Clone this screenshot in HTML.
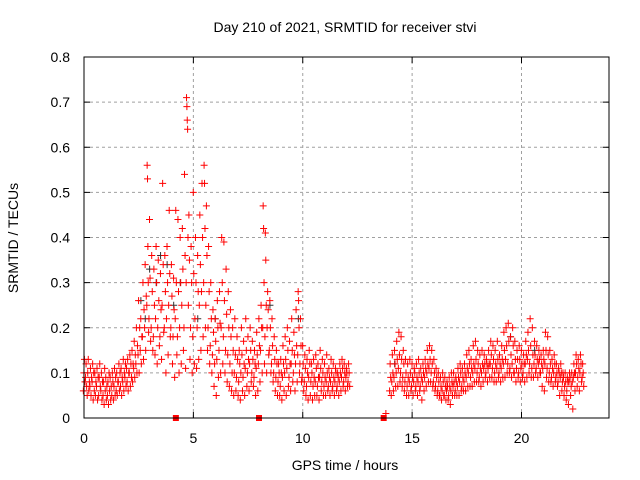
<!DOCTYPE html>
<html><head><meta charset="utf-8"><style>
html,body{margin:0;padding:0;background:#fff;}
svg{display:block;font-family:"Liberation Sans",sans-serif;}
</style></head><body>
<svg id="chart" width="640" height="480" viewBox="0 0 640 480">
<rect width="640" height="480" fill="#fff"/>
<text x="345" y="32" font-size="14" text-anchor="middle" fill="#000">Day 210 of 2021, SRMTID for receiver stvi</text>
<text x="345" y="470" font-size="14" text-anchor="middle" fill="#000">GPS time / hours</text>
<text x="0" y="0" font-size="14" text-anchor="middle" fill="#000" transform="translate(18,238) rotate(-90)">SRMTID / TECUs</text>
<g id="grid"></g>
<g id="ticks"></g>
<g id="black"></g>
<g id="red"></g>
<rect x="84" y="57" width="525" height="361" fill="none" stroke="#000" stroke-width="1"/>
</svg>
<script>
const xTicks=[0,5,10,15,20];
const yTicks=[0,0.1,0.2,0.3,0.4,0.5,0.6,0.7,0.8];
const yTickLabels=["0","0.1","0.2","0.3","0.4","0.5","0.6","0.7","0.8"];
const redTimes=[0.0,0.1,0.2,0.3,0.4,0.5,0.6,0.7,0.8,0.9,1.0,1.1,1.2,1.3,1.4,1.5,1.6,1.7,1.8,1.9,2.0,2.1,2.2,2.3,2.4,2.5,2.6,2.7,2.8,2.9,3.0,3.1,3.2,3.3,3.4,3.5,3.6,3.7,3.8,3.9,4.0,4.1,4.2,4.3,4.4,4.5,4.6,4.7,4.8,4.9,5.0,5.1,5.2,5.3,5.4,5.5,5.6,5.7,5.8,5.9,6.0,6.1,6.2,6.3,6.4,6.5,6.6,6.7,6.8,6.9,7.0,7.1,7.2,7.3,7.4,7.5,7.6,7.7,7.8,7.9,8.0,8.1,8.2,8.3,8.4,8.5,8.6,8.7,8.8,8.9,9.0,9.1,9.2,9.3,9.4,9.5,9.6,9.7,9.8,9.9,10.0,10.1,10.2,10.3,10.4,10.5,10.6,10.7,10.8,10.9,11.0,11.1,11.2,11.3,11.4,11.5,11.6,11.7,11.8,11.9,12.0,12.1,13.8,14.0,14.1,14.2,14.3,14.4,14.5,14.6,14.7,14.8,14.9,15.0,15.1,15.2,15.3,15.4,15.5,15.6,15.7,15.8,15.9,16.0,16.1,16.2,16.3,16.4,16.5,16.6,16.7,16.8,16.9,17.0,17.1,17.2,17.3,17.4,17.5,17.6,17.7,17.8,17.9,18.0,18.1,18.2,18.3,18.4,18.5,18.6,18.7,18.8,18.9,19.0,19.1,19.2,19.3,19.4,19.5,19.6,19.7,19.8,19.9,20.0,20.1,20.2,20.3,20.4,20.5,20.6,20.7,20.8,20.9,21.0,21.1,21.2,21.3,21.4,21.5,21.6,21.7,21.8,21.9,22.0,22.1,22.2,22.3,22.4,22.5,22.6,22.7,22.8];
const redValues=[
[.06,.1,.13,.08],[.09,.12,.07,.05],[.1,.13,.06,.08],[.07,.11,.05,.09],[.08,.12,.04,.1],[.06,.1,.05,.08],[.07,.11,.04,.09],[.05,.09,.12,.07],[.06,.1,.04,.08],[.05,.08,.03,.11],
[.06,.09,.04,.07],[.05,.08,.03,.1],[.06,.09,.04,.07],[.05,.1,.08,.04],[.07,.11,.05,.09],[.06,.1,.05,.08],[.08,.12,.06,.1],[.07,.11,.05,.09],[.08,.13,.06,.1],[.09,.12,.07,.11],
[.08,.13,.06,.1],[.1,.14,.07,.12],[.09,.15,.08,.12],[.11,.17,.09,.14],[.12,.2,.1,.16],[.14,.26,.1,.2],[.15,.22,.12,.18],[.18,.3,.13,.24],[.2,.34,.15,.27],[.25,.56,.53,.38,.3,.19],
[.22,.44,.31,.17],[.2,.36,.28,.15],[.18,.33,.25,.14],[.22,.38,.3,.12],[.2,.35,.26,.16],[.18,.32,.24,.13],[.25,.52,.34,.19],[.2,.36,.28,.1],[.22,.38,.3,.14],[.25,.46,.32,.18],
[.2,.34,.27,.12],[.18,.31,.24,.09],[.22,.46,.3,.14],[.18,.44,.28,.1],[.2,.4,.3,.12],[.25,.42,.33,.15],[.2,.54,.36,.11],[.3,.71,.69,.66,.64,.4],[.25,.45,.35,.13],[.2,.38,.3,.1],
[.18,.5,.32,.12],[.22,.4,.3,.11],[.2,.36,.28,.13],[.25,.45,.34,.15],[.28,.52,.4,.18],[.3,.56,.52,.42,.2],[.25,.47,.36,.15],[.2,.38,.28,.12],[.16,.3,.22,.1],[.14,.24,.19,.07],
[.12,.22,.17,.05],[.13,.26,.2,.09],[.15,.28,.21,.1],[.2,.4,.3,.12],[.18,.39,.26,.1],[.15,.33,.23,.08],[.14,.28,.2,.07],[.12,.24,.18,.06],[.1,.2,.15,.05],[.1,.22,.14,.06],
[.09,.18,.13,.05],[.08,.15,.12,.04],[.1,.2,.14,.06],[.09,.17,.12,.05],[.11,.22,.15,.07],[.1,.18,.13,.06],[.12,.2,.15,.08],[.1,.17,.13,.07],[.09,.15,.12,.05],[.11,.19,.14,.06],
[.12,.22,.16,.08],[.15,.25,.2,.1],[.2,.47,.42,.3,.12],[.18,.41,.35,.25,.1],[.2,.28,.24,.14],[.15,.26,.2,.1],[.12,.22,.16,.08],[.1,.18,.13,.06],[.09,.15,.12,.05],[.08,.12,.1,.05],
[.07,.13,.1,.04],[.09,.16,.12,.06],[.1,.18,.13,.05],[.11,.2,.15,.07],[.09,.17,.12,.06],[.12,.22,.15,.08],[.1,.19,.14,.06],[.12,.24,.16,.08],[.14,.28,.26,.2,.1],[.12,.22,.16,.08],
[.09,.16,.12,.06],[.08,.14,.11,.05],[.07,.13,.1,.04],[.09,.15,.12,.05],[.08,.12,.1,.04],[.07,.13,.09,.05],[.08,.14,.11,.05],[.07,.12,.09,.04],[.09,.15,.11,.06],[.08,.13,.1,.05],
[.07,.12,.09,.05],[.08,.14,.1,.06],[.07,.11,.09,.05],[.08,.13,.1,.06],[.07,.12,.09,.05],[.08,.11,.1,.06],[.07,.1,.09,.05],[.08,.12,.1,.06],[.09,.13,.11,.07],[.08,.12,.1,.06],
[.09,.11,.1,.07],[.08,.12,.1,.07],[.01],
[.06,.12,.09,.05],[.08,.14,.1,.06],[.09,.15,.12,.07],[.1,.17,.13,.07],[.11,.19,.14,.08],[.1,.18,.13,.07],[.09,.15,.12,.06],[.08,.13,.1,.05],[.07,.12,.09,.05],[.08,.13,.1,.06],
[.07,.12,.09,.05],[.08,.11,.1,.06],[.07,.12,.09,.05],[.08,.13,.1,.06],[.07,.11,.09,.04],[.08,.12,.1,.06],[.09,.13,.11,.07],[.1,.15,.12,.08],[.11,.16,.13,.08],[.1,.15,.12,.07],
[.08,.13,.1,.06],[.07,.11,.09,.05],[.06,.1,.08,.05],[.05,.09,.07,.04],[.06,.1,.08,.05],[.05,.09,.07,.04],[.06,.08,.07,.04],[.05,.09,.07,.03],[.06,.1,.08,.05],[.07,.1,.08,.05],
[.06,.09,.08,.05],[.07,.11,.09,.05],[.08,.12,.1,.06],[.07,.11,.09,.06],[.08,.12,.1,.06],[.09,.14,.11,.07],[.1,.15,.12,.07],[.09,.13,.11,.07],[.1,.16,.12,.08],[.11,.17,.13,.08],
[.1,.15,.12,.08],[.09,.14,.11,.07],[.1,.15,.12,.08],[.11,.14,.12,.09],[.1,.13,.12,.08],[.11,.15,.12,.09],[.12,.17,.14,.09],[.11,.16,.13,.08],[.1,.15,.12,.08],[.11,.17,.13,.09],
[.1,.14,.12,.08],[.11,.16,.13,.09],[.12,.19,.15,.09],[.13,.2,.16,.1],[.12,.21,.17,.1],[.11,.18,.14,.09],[.12,.2,.16,.1],[.1,.17,.13,.08],[.11,.15,.13,.09],[.1,.16,.13,.08],
[.11,.15,.12,.09],[.1,.14,.12,.08],[.12,.17,.14,.09],[.13,.19,.15,.1],[.12,.22,.16,.09],[.11,.2,.14,.09],[.12,.17,.14,.1],[.11,.16,.13,.09],[.12,.15,.13,.1],[.1,.14,.12,.07],
[.11,.15,.13,.06],[.12,.19,.15,.09],[.11,.18,.14,.08],[.1,.15,.12,.08],[.09,.13,.11,.07],[.1,.14,.12,.08],[.09,.12,.1,.07],[.08,.11,.1,.05],[.09,.12,.1,.06],[.08,.1,.09,.05],
[.07,.1,.08,.04],[.06,.09,.08,.03],[.08,.1,.09,.05],[.07,.1,.08,.02],[.09,.12,.1,.06],[.1,.14,.12,.07],[.09,.13,.11,.06],[.1,.14,.12,.08],[.09,.12,.1,.07]
];
const blackTimes=[2.6,2.8,3.0,3.3,3.5,3.8,4.1,4.4,5.2,6.0,8.5,9.8,14.2,19.5,20.6];
const blackValues=[.26,.22,.33,.3,.36,.34,.25,.3,.22,.22,.25,.22,.12,.18,.15];
const zeroTimes=[4.2,8.0,13.7];

const X0=84,X1=609,Y0=418,Y1=57;
const xs=h=>X0+(h/24)*(X1-X0);
const ys=v=>Y0-(v/0.8)*(Y0-Y1);
const NS="http://www.w3.org/2000/svg";
function mk(tag,attrs,parent){const e=document.createElementNS(NS,tag);for(const k in attrs)e.setAttribute(k,attrs[k]);parent.appendChild(e);return e;}
const grid=document.getElementById('grid'),ticks=document.getElementById('ticks');
xTicks.forEach(t=>{
  const x=xs(t);
  if(t>0){const g=mk('line',{x1:x,y1:Y0,x2:x,y2:Y1,stroke:'#a0a0a0','stroke-dasharray':'3,3'},grid);
  
  }
  mk('line',{x1:x,y1:Y0,x2:x,y2:Y0-6,stroke:'#000'},ticks);
  mk('line',{x1:x,y1:Y1,x2:x,y2:Y1+6,stroke:'#000'},ticks);
  const l=mk('text',{x:x,y:Y0+25,'font-size':14,'text-anchor':'middle',fill:'#000'},ticks);
  l.textContent=String(t);
  
  
});
yTicks.forEach((t,i)=>{
  const y=ys(t);
  if(i>0&&i<yTicks.length-1){const g=mk('line',{x1:X0,y1:y,x2:X1,y2:y,stroke:'#a0a0a0','stroke-dasharray':'3,3'},grid);
  
  }
  mk('line',{x1:X0,y1:y,x2:X0+6,y2:y,stroke:'#000'},ticks);
  mk('line',{x1:X1,y1:y,x2:X1-6,y2:y,stroke:'#000'},ticks);
  const l=mk('text',{x:X0-14,y:y+5,'font-size':14,'text-anchor':'end',fill:'#000'},ticks);
  l.textContent=yTickLabels[i];
  
  
});
function plus(parent,h,v,color){
  const x=xs(h),y=ys(v);
  const p=mk('path',{d:`M${x-3.5},${y}H${x+3.5}M${x},${y-3.5}V${y+3.5}`,stroke:color,'stroke-width':1,fill:'none'},parent);
  
  
}
const bg=document.getElementById('black'),rg=document.getElementById('red');
blackTimes.forEach((t,i)=>plus(bg,t,blackValues[i],'#333'));
redTimes.forEach((t,i)=>{const n=redValues[i].length;redValues[i].forEach((v,j)=>plus(rg,t+(n>1?(j/n)*0.1-0.03:0),v,'#ff0000'));});
zeroTimes.forEach(t=>{
  const s=mk('rect',{x:xs(t)-3,y:ys(0)-3,width:6,height:6,fill:'#ff0000'},rg);
  
  
});
</script>
</body></html>
